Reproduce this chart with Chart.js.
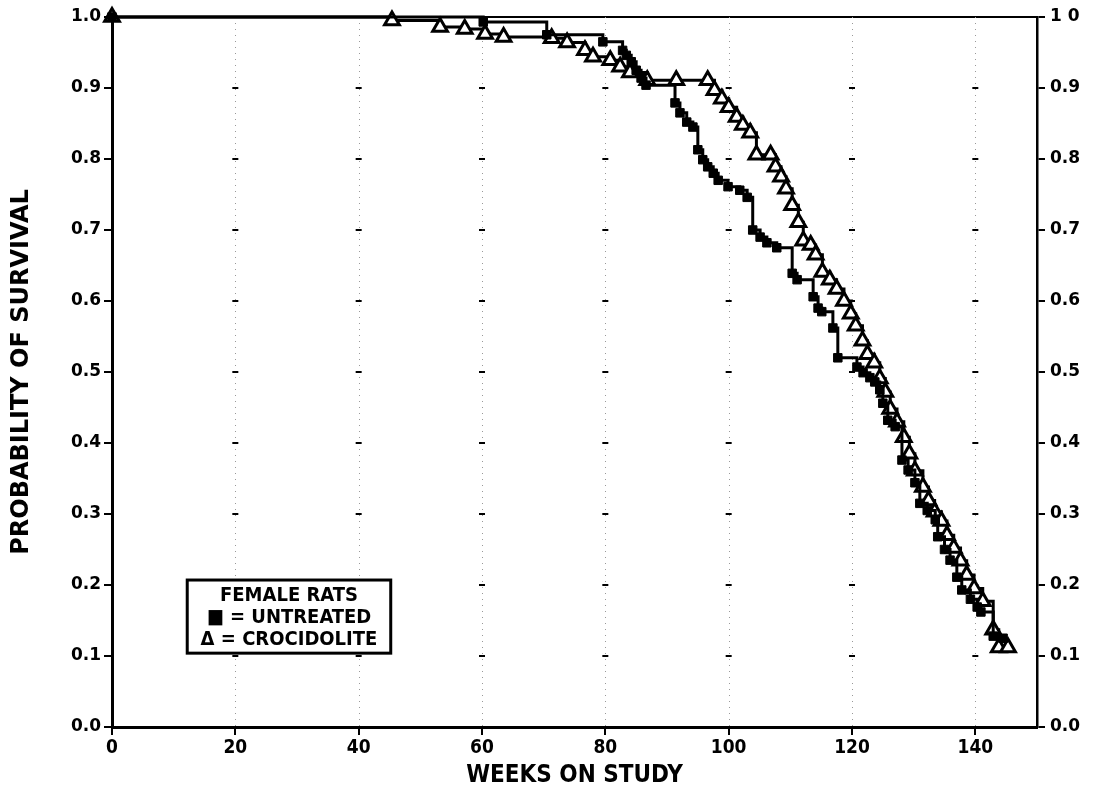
<!DOCTYPE html>
<html>
<head>
<meta charset="utf-8">
<script src="https://cdn.jsdelivr.net/npm/chart.js@4.4.1/dist/chart.umd.min.js"></script>
<style>
  html, body { margin: 0; padding: 0; background: #fff; }
  #wrap { width: 1105px; height: 790px; }
</style>
</head>
<body>
<div id="wrap"><canvas id="survChart" width="1105" height="790"></canvas></div>
<script>
// Kaplan-Meier survival, female rats
const untreatedWeeks = [0, 60.2, 70.5, 79.6, 82.8, 83.4, 84.2, 85.0, 85.8, 86.6, 91.3, 92.1, 93.2, 94.2,
  95.0, 95.8, 96.6, 97.5, 98.3, 99.9, 101.8, 103.0, 103.9, 105.1, 106.2, 107.8, 110.3, 111.1,
  113.7, 114.5, 115.1, 116.9, 117.7, 120.8, 121.8, 122.9, 123.7, 124.5, 125.0, 125.8, 127.0,
  128.1, 129.1, 130.2, 131.0, 132.2, 133.5, 133.9, 135.0, 135.9, 137.0, 137.8, 139.2, 140.3,
  140.9, 142.9, 144.5];
const untreatedSurv = [1.0, 0.993, 0.975, 0.965, 0.953, 0.946, 0.937, 0.925, 0.914, 0.904, 0.879, 0.865, 0.852, 0.845,
  0.813, 0.799, 0.789, 0.780, 0.770, 0.761, 0.756, 0.746, 0.700, 0.690, 0.682, 0.675, 0.639, 0.630,
  0.606, 0.590, 0.585, 0.562, 0.520, 0.507, 0.499, 0.492, 0.486, 0.475, 0.456, 0.432, 0.423,
  0.376, 0.362, 0.344, 0.315, 0.305, 0.292, 0.268, 0.250, 0.235, 0.211, 0.193, 0.180, 0.169,
  0.162, 0.128, 0.125];

const crociWeeks = [0, 45.4, 53.2, 57.2, 60.5, 63.5, 71.3, 73.8, 76.7, 78.0, 80.8, 82.4, 84.0, 86.8,
  91.5, 96.6, 97.7, 98.9, 100.0, 101.3, 102.3, 103.5, 104.5, 106.8, 107.6, 108.5, 109.3, 110.3,
  111.3, 112.1, 113.3, 114.1, 115.2, 116.4, 117.5, 118.7, 119.8, 120.6, 121.7, 122.5, 123.6,
  124.5, 125.4, 126.2, 127.3, 128.4, 129.3, 130.2, 131.5, 132.4, 133.4, 134.5, 135.4, 136.5,
  137.6, 138.6, 139.8, 141.2, 142.9, 143.8, 145.3];
const crociSurv = [1.0, 0.995, 0.986, 0.983, 0.976, 0.972, 0.970, 0.964, 0.953, 0.944, 0.939, 0.930, 0.922, 0.911,
  0.911, 0.911, 0.897, 0.885, 0.873, 0.859, 0.848, 0.837, 0.806, 0.806, 0.789, 0.775, 0.758, 0.735,
  0.711, 0.685, 0.679, 0.665, 0.641, 0.630, 0.617, 0.600, 0.582, 0.565, 0.544, 0.525, 0.513,
  0.491, 0.472, 0.448, 0.430, 0.408, 0.385, 0.361, 0.338, 0.319, 0.303, 0.290, 0.270, 0.252,
  0.234, 0.214, 0.195, 0.177, 0.137, 0.112, 0.112];

const xTicks = [0, 20, 40, 60, 80, 100, 120, 140];
const yTicks = [0, 0.1, 0.2, 0.3, 0.4, 0.5, 0.6, 0.7, 0.8, 0.9, 1.0];
const rightLabels = ["0.0", "0.1", "0.2", "0.3", "0.4", "0.5", "0.6", "0.7", "0.8", "0.9", "1 0"];
const legendLines = ["FEMALE RATS", "\u25A0 = UNTREATED", "\u0394 = CROCIDOLITE"];

const toPoints = (xs, ys) => xs.map((x, i) => ({ x, y: ys[i] }));

const tickFont = { family: "'DejaVu Sans', sans-serif", size: 17, weight: "bold" };
const xTickFont = { family: "'DejaVu Sans Condensed', 'DejaVu Sans', sans-serif", size: 19, weight: "bold" };
const xTitleFont = { family: "'DejaVu Sans Condensed', 'DejaVu Sans', sans-serif", size: 24, weight: "bold" };
const yTitleFont = { family: "'DejaVu Sans', sans-serif", size: 24, weight: "bold" };

// dotted grid marks and the legend box
const extras = {
  id: "extras",
  beforeDatasetsDraw(chart) {
    const { ctx, scales: { x, y } } = chart;
    ctx.save();
    ctx.strokeStyle = "#999";
    ctx.lineWidth = 1;
    ctx.setLineDash([1, 5]);
    for (const t of xTicks.slice(1)) {
      const px = Math.round(x.getPixelForValue(t)) + 0.5;
      ctx.beginPath();
      ctx.moveTo(px, y.getPixelForValue(1));
      ctx.lineTo(px, y.getPixelForValue(0));
      ctx.stroke();
    }
    ctx.setLineDash([]);
    ctx.strokeStyle = "#000";
    ctx.lineWidth = 2;
    for (const t of xTicks.slice(1)) {
      for (const v of yTicks.slice(1, -1)) {
        const px = x.getPixelForValue(t);
        const py = y.getPixelForValue(v);
        ctx.beginPath();
        ctx.moveTo(px - 3, py);
        ctx.lineTo(px + 3, py);
        ctx.stroke();
      }
    }
    ctx.restore();
  },
  afterDraw(chart) {
    const { ctx, scales: { x, y } } = chart;
    const left = x.getPixelForValue(12.2);
    const right = x.getPixelForValue(45.2);
    const top = y.getPixelForValue(0.207);
    const bottom = y.getPixelForValue(0.104);
    ctx.save();
    ctx.fillStyle = "#fff";
    ctx.fillRect(left, top, right - left, bottom - top);
    ctx.strokeStyle = "#000";
    ctx.lineWidth = 3;
    ctx.strokeRect(left, top, right - left, bottom - top);
    ctx.fillStyle = "#000";
    ctx.font = "bold 20px 'DejaVu Sans Condensed', 'DejaVu Sans', sans-serif";
    ctx.textAlign = "center";
    ctx.textBaseline = "middle";
    const cx = (left + right) / 2;
    const step = (bottom - top) / 3.3;
    legendLines.forEach((line, i) => {
      ctx.fillText(line, cx, top + step * (0.7 + i));
    });
    ctx.restore();
  },
};

new Chart(document.getElementById("survChart"), {
  type: "line",
  data: {
    datasets: [
      {
        label: "UNTREATED",
        data: toPoints(untreatedWeeks, untreatedSurv),
        stepped: true,
        borderColor: "#000",
        borderWidth: 3,
        pointStyle: "rect",
        pointRadius: 6,
        pointBackgroundColor: "#000",
        pointBorderColor: "#000",
        pointBorderWidth: 1,
        clip: false,
        order: 0,
      },
      {
        label: "CROCIDOLITE",
        data: toPoints(crociWeeks, crociSurv),
        stepped: true,
        borderColor: "#000",
        borderWidth: 3,
        pointStyle: "triangle",
        pointRadius: 8.5,
        pointBackgroundColor: "#fff",
        pointBorderColor: "#000",
        pointBorderWidth: 3,
        clip: false,
        order: 1,
      },
    ],
  },
  options: {
    responsive: false,
    animation: false,
    layout: { padding: 0 },
    plugins: { legend: { display: false }, tooltip: { enabled: false } },
    scales: {
      x: {
        type: "linear",
        position: "bottom",
        min: 0,
        max: 150,
        afterFit: (s) => { s.height = 63; },
        afterBuildTicks: (s) => { s.ticks = xTicks.map((v) => ({ value: v })); },
        ticks: { color: "#000", font: xTickFont, padding: 2, maxRotation: 0 },
        grid: { drawOnChartArea: false, color: "#000", lineWidth: 2, tickLength: 8 },
        border: { display: true, color: "#000", width: 3 },
        title: { display: true, text: "WEEKS ON STUDY", color: "#000", font: xTitleFont, padding: { top: 0, bottom: 0 } },
      },
      xTop: {
        type: "linear",
        position: "top",
        min: 0,
        max: 150,
        afterFit: (s) => { s.height = 17; },
        ticks: { display: false },
        grid: { display: false, drawOnChartArea: false, tickLength: 0 },
        border: { display: true, color: "#000", width: 2 },
      },
      y: {
        type: "linear",
        position: "left",
        min: 0,
        max: 1,
        afterFit: (s) => { s.width = 112; },
        afterBuildTicks: (s) => { s.ticks = yTicks.map((v) => ({ value: v })); },
        ticks: { color: "#000", font: tickFont, padding: 3, callback: (v) => v.toFixed(1) },
        grid: { drawOnChartArea: false, color: "#000", lineWidth: 2, tickLength: 8 },
        border: { display: true, color: "#000", width: 3 },
        title: { display: true, text: "PROBABILITY OF SURVIVAL", color: "#000", font: yTitleFont, padding: { top: 7 } },
      },
      yRight: {
        type: "linear",
        position: "right",
        min: 0,
        max: 1,
        afterFit: (s) => { s.width = 68; },
        afterBuildTicks: (s) => { s.ticks = yTicks.map((v) => ({ value: v })); },
        ticks: { color: "#000", font: tickFont, padding: 5, callback: (v, i) => rightLabels[i] },
        grid: { drawOnChartArea: false, color: "#000", lineWidth: 2, tickLength: 8 },
        border: { display: true, color: "#000", width: 2.5 },
      },
    },
  },
  plugins: [extras],
});
</script>
</body>
</html>
